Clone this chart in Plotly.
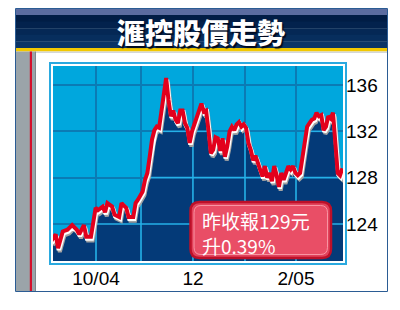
import numpy as np
import plotly.graph_objects as go

# ---------------- data ----------------
days = [0, 2, 3, 5, 7, 9, 11, 12, 14, 15, 17, 19, 20, 22, 23, 24, 26, 27, 29, 30,
        32, 33, 35, 36, 37, 39, 40, 41, 42, 43, 44, 45, 46, 47, 48, 49, 50, 51, 52,
        53, 54, 55, 56, 57, 58, 59, 60, 61, 62, 63, 64, 65, 66, 67, 68, 69, 70, 71,
        72, 73, 74, 75, 76, 77, 78, 79, 80, 81, 82, 83, 84, 85, 86, 87, 88, 89, 90,
        91, 92, 93, 94, 95, 96, 97, 98, 99, 100, 101, 102, 103, 104, 105, 106, 107,
        108, 109, 110, 111, 112, 113, 114, 115, 116, 117, 118, 119, 120, 121, 122,
        123, 124]
closes = [122.5, 123.1, 121.9, 123.35, 123.5, 123.9, 123.5, 123.1, 123.9, 122.9,
          122.9, 125.4, 125.2, 125.5, 125.0, 125.8, 125.5, 124.8, 124.6, 125.8,
          125.4, 124.6, 124.6, 125.8, 126.1, 126.8, 127.8, 128.4, 129.8, 131.3,
          132.1, 132.4, 132.3, 133.8, 135.3, 136.6, 134.7, 133.3, 133.8, 133.0,
          132.7, 133.8, 133.8, 132.7, 132.3, 131.0, 132.0, 132.6, 133.3, 134.0,
          134.4, 133.7, 133.8, 132.1, 130.1, 130.4, 131.5, 131.4, 130.3, 131.4,
          129.8, 130.7, 132.0, 132.4, 132.1, 132.6, 132.8, 132.4, 132.6, 132.3,
          131.0, 130.4, 129.5, 129.9, 129.4, 128.7, 128.1, 129.0, 128.0, 128.4,
          127.7, 129.0, 128.2, 127.2, 128.4, 127.8, 128.4, 129.0, 128.7, 129.0,
          128.4, 128.2, 128.4, 129.8, 131.0, 132.4, 132.7, 133.0, 133.1, 133.6,
          133.3, 133.4, 132.1, 132.4, 133.3, 133.1, 133.6, 131.0, 128.4, 128.2,
          128.8]
month_starts = [19.15, 38.3, 60.4, 82.55, 104.26]
month_labels = ["10/04", "", "12", "", "2/05"]
price_ticks = [124, 128, 132, 136]
title_text = "滙控股價走勢"
note_line1 = "昨收報129元"
note_line2 = "升0.39%"

X_RANGE = [0.85, 124.26]
Y_RANGE = [120.8, 137.64]

# ---------------- geometry helpers ----------------
W_FIG, H_FIG = 400, 310
PL, PT, PW, PH = 53, 66, 290, 195


def fx(p):
    return (p - PL) / PW


def fy(p):
    return (PT + PH - p) / PH


def rect(x0, y0, x1, y1, fill, line=None, lw=0, layer="below"):
    return dict(type="rect", xref="paper", yref="paper",
                x0=fx(x0), x1=fx(x1), y0=fy(y1), y1=fy(y0),
                fillcolor=fill, line=dict(color=line or fill, width=lw),
                layer=layer)


def rrect_path(x0, y0, x1, y1, r):
    pts = [("M", [(x0 + r, y0)]), ("L", [(x1 - r, y0)]), ("Q", [(x1, y0), (x1, y0 + r)]),
           ("L", [(x1, y1 - r)]), ("Q", [(x1, y1), (x1 - r, y1)]), ("L", [(x0 + r, y1)]),
           ("Q", [(x0, y1), (x0, y1 - r)]), ("L", [(x0, y0 + r)]), ("Q", [(x0, y0), (x0 + r, y0)])]
    s = ""
    for cmd, ps in pts:
        s += cmd + " " + " ".join(f"{fx(a):.5f},{fy(b):.5f}" for a, b in ps) + " "
    return s + "Z"


shapes = []
# card
shapes.append(rect(15.5, 8.5, 387.5, 291.5, "white", "#2b5c94", 1))
# title band
shapes.append(rect(16, 9, 387, 15, "#5b6ca0"))
band_cols = ["#011d45", "#03224d", "#052855", "#072e5d", "#0a3465"]
for i, c in enumerate(band_cols):
    shapes.append(rect(16, 15 + i * 6.6, 387, 15 + (i + 1) * 6.6 + 0.3, c))
shapes.append(rect(16, 48, 387, 51.5, "#f2c800"))
shapes.append(rect(35, 51.5, 387, 53, "#d3d7d9"))
# left grey strip
shapes.append(rect(16, 51.5, 35, 291, "#9ba4a9"))
shapes.append(rect(29.8, 51.5, 32, 291, "#d4102c"))
shapes.append(rect(35, 51.5, 36, 291, "#7d878c"))
# plot frame + inner bg
shapes.append(rect(50, 63, 346, 264, "white", "#2aa9df", 2))
shapes.append(rect(PL, PT, PL + PW, PT + PH, "#00a7dd"))

# rounded note box (above traces)
shapes.append(dict(type="path", xref="paper", yref="paper",
                   path=rrect_path(190.5, 202, 331, 258, 9),
                   fillcolor="#e2425b", line=dict(color="#bd1029", width=2.5),
                   layer="above"))
shapes.append(dict(type="path", xref="paper", yref="paper",
                   path=rrect_path(194, 205.5, 327.5, 254.5, 7),
                   fillcolor="#e94e66", line=dict(color="rgba(255,175,185,0.75)", width=1),
                   layer="above"))

# ---------------- traces ----------------
xs = np.array(days, dtype=float)
ys = np.array(closes, dtype=float)
dx_sh, dy_sh = 0.75, -0.33
dx_w, dy_w = 0.35, -0.15

fig = go.Figure()
# navy fill under shadow
fig.add_trace(go.Scatter(x=xs + dx_sh, y=ys + dy_sh, mode="lines", fill="tozeroy",
                         fillcolor="#043a78", line=dict(width=0, color="#043a78"),
                         hoverinfo="skip", showlegend=False))

# light grid lines inside the filled area
bx, by = xs + dx_sh, ys + dy_sh
gx, gy = [], []
for m in month_starts:
    top = float(np.interp(m, bx, by))
    gx += [m, m, None]
    gy += [Y_RANGE[0] - 1, top, None]
for L in price_ticks:
    inside = by[0] > L
    start = bx[0] if inside else None
    for i in range(1, len(bx)):
        y0, y1 = by[i - 1], by[i]
        if (y0 > L) != (y1 > L):
            xc = bx[i - 1] + (L - y0) / (y1 - y0) * (bx[i] - bx[i - 1])
            if not inside:
                start, inside = xc, True
            else:
                gx += [start, xc, None]
                gy += [L, L, None]
                inside = False
    if inside:
        gx += [start, X_RANGE[1] + 1, None]
        gy += [L, L, None]
fig.add_trace(go.Scatter(x=gx, y=gy, mode="lines", line=dict(color="#25b1e8", width=1.6),
                         hoverinfo="skip", showlegend=False))

# shadow, white edge, red line
fig.add_trace(go.Scatter(x=xs + dx_sh, y=ys + dy_sh, mode="lines",
                         line=dict(color="#a3a3a3", width=4), hoverinfo="skip", showlegend=False))
fig.add_trace(go.Scatter(x=xs + dx_w, y=ys + dy_w, mode="lines",
                         line=dict(color="#ffffff", width=4.5), hoverinfo="skip", showlegend=False))
fig.add_trace(go.Scatter(x=xs, y=ys, mode="lines",
                         line=dict(color="#e2001c", width=4), showlegend=False))

# ---------------- annotations ----------------
annotations = []
annotations.append(dict(text=title_text, xref="paper", yref="paper", x=fx(201), y=fy(32.5),
                        showarrow=False, xanchor="center", yanchor="middle",
                        font=dict(family="Noto Sans CJK TC", size=28, weight=900,
                                  color="white", shadow="1.5px 1.5px 1px #000a20")))
note_font = dict(family="Noto Sans CJK TC", size=19, color="white")
annotations.append(dict(text=note_line1 + "<br>" + note_line2, xref="paper", yref="paper",
                        x=fx(201), y=fy(232.5), showarrow=False, xanchor="left",
                        yanchor="middle", align="left", borderpad=0, font=note_font))

tick_font = dict(family="Liberation Sans", size=19, color="black")
fig.update_layout(
    width=W_FIG, height=H_FIG,
    margin=dict(l=PL, r=W_FIG - PL - PW, t=PT, b=H_FIG - PT - PH, pad=0),
    paper_bgcolor="white", plot_bgcolor="rgba(0,0,0,0)",
    shapes=shapes, annotations=annotations, showlegend=False,
    xaxis=dict(range=X_RANGE, tickmode="array", tickvals=month_starts, ticktext=month_labels,
               showgrid=True, gridcolor="#0b7bb4", gridwidth=1.6, zeroline=False,
               showline=False, ticks="", tickfont=tick_font, fixedrange=True,
               ticklabelstandoff=4),
    yaxis=dict(range=Y_RANGE, side="right", tickmode="array", tickvals=price_ticks,
               showgrid=True, gridcolor="#0b7bb4", gridwidth=1.6, zeroline=False,
               showline=False, ticks="", tickfont=tick_font, fixedrange=True,
               ticklabelstandoff=2),
)

fig.write_html("out.html")
